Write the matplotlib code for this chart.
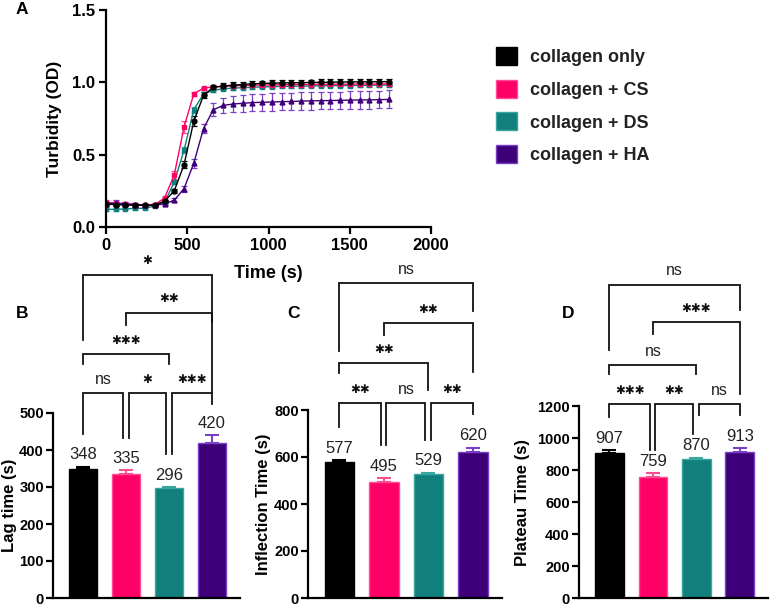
import numpy as np
import matplotlib
matplotlib.use('Agg')
import matplotlib.pyplot as plt
import matplotlib.patches as pch

plt.rcParams['font.family'] = ['Liberation Sans', 'DejaVu Sans']

# ---- data ----
groups = ['collagen only', 'collagen + CS', 'collagen + DS', 'collagen + HA']
colors = ['#000000', '#ff0066', '#117f7b', '#3d0078']
edges = ['#000000', '#ff4d94', '#3aa6a0', '#7a3fc7']

time_s = [0, 60, 120, 180, 240, 300, 360, 420, 480, 540, 600, 660, 720, 780, 840,
          900, 960, 1020, 1080, 1140, 1200, 1260, 1320, 1380, 1440, 1500, 1560, 1620, 1680, 1740]
od_only = [0.157, 0.155, 0.152, 0.150, 0.150, 0.152, 0.178, 0.250, 0.430, 0.730, 0.910, 0.965, 0.975, 0.980, 0.985,
           0.990, 0.992, 0.994, 0.996, 0.997, 0.998, 0.999, 1.000, 1.001, 1.002, 1.003, 1.003, 1.004, 1.004, 1.005]
od_cs = [0.170, 0.165, 0.160, 0.155, 0.152, 0.155, 0.200, 0.360, 0.690, 0.920, 0.960, 0.968, 0.972, 0.975, 0.978,
         0.980, 0.981, 0.982, 0.983, 0.984, 0.985, 0.985, 0.986, 0.986, 0.987, 0.987, 0.988, 0.988, 0.988, 0.989]
od_ds = [0.122, 0.122, 0.125, 0.128, 0.130, 0.145, 0.170, 0.310, 0.530, 0.810, 0.920, 0.945, 0.955, 0.960, 0.963,
         0.966, 0.968, 0.970, 0.972, 0.973, 0.974, 0.975, 0.976, 0.977, 0.978, 0.978, 0.979, 0.980, 0.980, 0.981]
od_ha = [0.160, 0.165, 0.160, 0.155, 0.150, 0.150, 0.160, 0.185, 0.265, 0.440, 0.680, 0.810, 0.840, 0.850, 0.855,
         0.860, 0.862, 0.864, 0.866, 0.868, 0.870, 0.872, 0.873, 0.874, 0.876, 0.877, 0.878, 0.879, 0.880, 0.882]
err_only = [0.01, 0.01, 0.01, 0.01, 0.01, 0.01, 0.01, 0.015, 0.025, 0.035, 0.02, 0.02, 0.02, 0.02, 0.02,
            0.02, 0.02, 0.02, 0.02, 0.02, 0.02, 0.02, 0.02, 0.02, 0.02, 0.02, 0.02, 0.02, 0.02, 0.02]
err_cs = [0.01, 0.01, 0.01, 0.01, 0.01, 0.01, 0.01, 0.03, 0.04, 0.015, 0.01, 0.01, 0.01, 0.01, 0.01,
          0.01, 0.01, 0.01, 0.01, 0.01, 0.01, 0.01, 0.01, 0.01, 0.01, 0.01, 0.01, 0.01, 0.01, 0.01]
err_ds = [0.008, 0.008, 0.008, 0.008, 0.008, 0.008, 0.01, 0.015, 0.02, 0.02, 0.01, 0.01, 0.01, 0.01, 0.01,
          0.01, 0.01, 0.01, 0.01, 0.01, 0.01, 0.01, 0.01, 0.01, 0.01, 0.01, 0.01, 0.01, 0.01, 0.01]
err_ha = [0.015, 0.02, 0.015, 0.01, 0.01, 0.01, 0.01, 0.015, 0.02, 0.03, 0.03, 0.045, 0.055, 0.055, 0.058,
          0.058, 0.06, 0.06, 0.06, 0.06, 0.06, 0.06, 0.06, 0.06, 0.06, 0.06, 0.06, 0.06, 0.06, 0.062]
curve_markers = ['o', 's', 's', '^']

lag_time = [348, 335, 296, 420]
lag_err = [7, 10, 3, 20]
inflection_time = [577, 495, 529, 620]
inflection_err = [10, 17, 5, 20]
plateau_time = [907, 759, 870, 913]
plateau_err = [15, 22, 8, 22]

# brackets: (i, j, label, y, left leg bottom, right leg bottom)
brackets_b = [(0, 3, '*', 874, 696, 745), (1, 3, '**', 771, 739, 556), (0, 2, '***', 659, 632, 632),
              (0, 1, 'ns', 554, 443, 433), (1, 2, '*', 554, 433, 390), (2, 3, '***', 554, 390, 524)]
brackets_c = [(0, 3, 'ns', 1339, 1053, 1221), (1, 3, '**', 1170, 1120, 960), (0, 2, '**', 998, 956, 884),
              (0, 1, '**', 829, 728, 653), (1, 2, 'ns', 829, 653, 674), (2, 3, '**', 829, 674, 783)]
brackets_d = [(0, 3, 'ns', 1959, 1549, 1798), (1, 3, '***', 1723, 1648, 1275), (0, 2, 'ns', 1455, 1400, 1400),
              (0, 1, '***', 1213, 1132, 927), (1, 2, '**', 1213, 927, 1026), (2, 3, 'ns', 1213, 1144, 1144)]

fig = plt.figure(figsize=(7.72, 6.08), dpi=100)
W, H = 772, 608


def ax_at(l, t, r, b):
    return fig.add_axes([l / W, 1 - b / H, (r - l) / W, (b - t) / H])


def style(ax, size, pad):
    ax.spines['top'].set_visible(False)
    ax.spines['right'].set_visible(False)
    for s in ['left', 'bottom']:
        ax.spines[s].set_linewidth(1.6)
    ax.tick_params(width=1.6, length=5, labelsize=size, pad=pad)
    for lab in ax.get_xticklabels() + ax.get_yticklabels():
        lab.set_fontweight('bold')


# ---- panel A ----
axa = ax_at(106, 10, 431, 227)
series = [od_only, od_cs, od_ds, od_ha]
errs = [err_only, err_cs, err_ds, err_ha]
for k in [2, 1, 3, 0]:
    axa.errorbar(time_s, series[k], yerr=errs[k], color=colors[k], ecolor=edges[k],
                 marker=curve_markers[k], markersize=3.5, linewidth=1.0, elinewidth=0.9,
                 capsize=2, capthick=0.9)
axa.set_xlim(0, 2000)
axa.set_ylim(0, 1.5)
axa.set_xticks([0, 500, 1000, 1500, 2000])
axa.set_yticks([0.0, 0.5, 1.0, 1.5])
axa.set_yticklabels(['0.0', '0.5', '1.0', '1.5'])
style(axa, 12, 3)
axa.set_xlabel('Time (s)', fontsize=13, fontweight='bold')
axa.xaxis.set_label_coords(0.5, -0.175)
axa.set_ylabel('Turbidity (OD)', fontsize=12.5, fontweight='bold')
axa.yaxis.set_label_coords(-0.135, 0.5)

legend = [pch.Patch(facecolor=colors[k], edgecolor=edges[k], label=groups[k]) for k in range(4)]
fig.legend(handles=legend, loc='upper left', bbox_to_anchor=(480 / W, 1 - 31 / H), frameon=False,
           prop={'weight': 'bold', 'size': 13}, handlelength=1.15, handleheight=1.15,
           labelspacing=0.75, handletextpad=0.7, labelcolor='#222222')

fig.text(22 / W, 1 - 10 / H, 'A', fontsize=12.5, fontweight='bold', ha='center', va='center')


# ---- bar panels ----
def bar_panel(ax, vals, errs_, ylim, step, ylabel, brackets, label_x):
    x = np.arange(len(vals))
    for k in range(len(vals)):
        ax.bar(x[k], vals[k], width=0.66, color=colors[k], edgecolor=edges[k], linewidth=1)
        ax.errorbar(x[k], vals[k], yerr=[[0], [errs_[k]]], color=edges[k], elinewidth=1.5,
                    capsize=5, capthick=1.5)
        ax.annotate(str(vals[k]), (x[k], vals[k] + errs_[k]), xytext=(0, 3), textcoords='offset points',
                    ha='center', va='bottom', fontsize=12, color='#222222')
    ax.set_xlim(-0.7, 3.65)
    ax.set_ylim(0, ylim)
    ax.set_yticks(np.arange(0, ylim + 1, step))
    ax.set_xticks([])
    style(ax, 10.5, 1.5)
    ax.set_ylabel(ylabel, fontsize=12, fontweight='bold')
    ax.yaxis.set_label_coords(label_x, 0.5)
    for i, j, lab, y, lb, rb in brackets:
        adj = (j - i == 1)
        x1 = i + (0.06 if adj and i > 0 else 0)
        x2 = j - (0.07 if adj and j < 3 else 0)
        ax.plot([x1, x1, x2, x2], [lb, y, y, rb], color='#111111', linewidth=1.3,
                clip_on=False, solid_joinstyle='miter')
        if lab == 'ns':
            ax.annotate(lab, ((x1 + x2) / 2, y), xytext=(0, 10), textcoords='offset points',
                        ha='center', va='center', fontsize=11.5, color='#222222',
                        annotation_clip=False)
        else:
            ax.annotate('\u2731' * len(lab), ((x1 + x2) / 2, y), xytext=(0, 10), textcoords='offset points',
                        ha='center', va='center', fontsize=8.5, color='#111111', family='DejaVu Sans',
                        annotation_clip=False)


axb = ax_at(53, 413, 240, 598)
bar_panel(axb, lag_time, lag_err, 500, 100, 'Lag time (s)', brackets_b, -0.19)
axc = ax_at(308, 410, 502, 598)
bar_panel(axc, inflection_time, inflection_err, 800, 200, 'Inflection Time (s)', brackets_c, -0.19)
axd = ax_at(579, 406, 768, 598)
bar_panel(axd, plateau_time, plateau_err, 1200, 200, 'Plateau Time (s)', brackets_d, -0.26)

fig.text(22 / W, 1 - 313 / H, 'B', fontsize=12.5, fontweight='bold', ha='center', va='center')
fig.text(294 / W, 1 - 313 / H, 'C', fontsize=12.5, fontweight='bold', ha='center', va='center')
fig.text(568 / W, 1 - 313 / H, 'D', fontsize=12.5, fontweight='bold', ha='center', va='center')

fig.savefig('out.png', dpi=100)
